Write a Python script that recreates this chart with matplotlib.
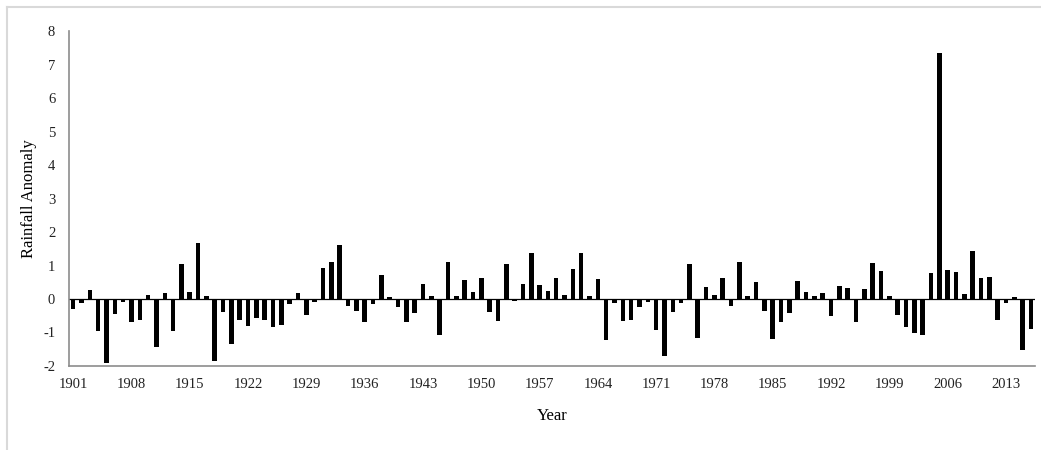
import numpy as np
import matplotlib.pyplot as plt
from matplotlib.lines import Line2D

# Anomalias de lluvia anuales 1901-2016
years = list(range(1901, 2017))
anomaly = [
    -0.30, -0.12, 0.28, -0.97, -1.92, -0.45, -0.08, -0.68, -0.62, 0.12,   # 1901-1910
    -1.43, 0.18, -0.95, 1.05, 0.21, 1.68, 0.10, -1.86, -0.38, -1.33,      # 1911-1920
    -0.62, -0.82, -0.56, -0.64, -0.83, -0.78, -0.15, 0.18, -0.48, -0.10,  # 1921-1930
    0.93, 1.10, 1.62, -0.22, -0.37, -0.68, -0.14, 0.72, 0.05, -0.23,      # 1931-1940
    -0.70, -0.41, 0.45, 0.10, -1.07, 1.10, 0.10, 0.58, 0.22, 0.63,        # 1941-1950
    -0.38, -0.66, 1.05, -0.05, 0.46, 1.38, 0.43, 0.24, 0.63, 0.12,        # 1951-1960
    0.90, 1.38, 0.10, 0.60, -1.23, -0.12, -0.66, -0.63, -0.25, -0.10,     # 1961-1970
    -0.93, -1.71, -0.40, -0.12, 1.05, -1.15, 0.36, 0.13, 0.63, -0.22,     # 1971-1980
    1.10, 0.10, 0.50, -0.36, -1.20, -0.70, -0.43, 0.53, 0.20, 0.10,       # 1981-1990
    0.18, -0.50, 0.40, 0.33, -0.70, 0.30, 1.07, 0.83, 0.10, -0.47,        # 1991-2000
    -0.83, -1.03, -1.08, 0.77, 7.35, 0.87, 0.80, 0.15, 1.43, 0.63,        # 2001-2010
    0.67, -0.63, -0.12, 0.07, -1.53, -0.90,                               # 2011-2016
]

plt.rcParams['font.family'] = ['Liberation Serif', 'DejaVu Serif']
plt.rcParams['axes.unicode_minus'] = False

fig = plt.figure(figsize=(10.41, 4.5), dpi=100)
ax = fig.add_axes([0.0663, 0.1867, 0.928, 0.7443])

x = np.arange(len(years))
ax.bar(x, anomaly, width=0.55, color='black', zorder=3)
ax.axhline(0, color='black', linewidth=0.9, zorder=2)

ax.set_xlim(-0.5, len(years) - 0.5)
ax.set_ylim(-2, 8)
ax.set_yticks(range(-2, 9))
ax.set_xticks(x[::7])
ax.set_xticklabels([str(y) for y in years[::7]])
ax.tick_params(axis='both', length=0, labelsize=10.5, colors='#222222')
ax.tick_params(axis='x', pad=9)
ax.tick_params(axis='y', pad=10)

for side in ['top', 'right']:
    ax.spines[side].set_visible(False)
for side in ['left', 'bottom']:
    ax.spines[side].set_color('#8c8c8c')
    ax.spines[side].set_linewidth(1.2)

ax.set_xlabel('Year', fontsize=12, labelpad=12)
ax.set_ylabel('Rainfall Anomaly', fontsize=12, labelpad=4)

# marco gris claro alrededor del grafico
fig.add_artist(Line2D([7 / 1041, 1], [1 - 7 / 450, 1 - 7 / 450], color='#d9d9d9', linewidth=1.5))
fig.add_artist(Line2D([7 / 1041, 7 / 1041], [0, 1 - 7 / 450], color='#d9d9d9', linewidth=1.5))

fig.savefig('out.png', dpi=100)
